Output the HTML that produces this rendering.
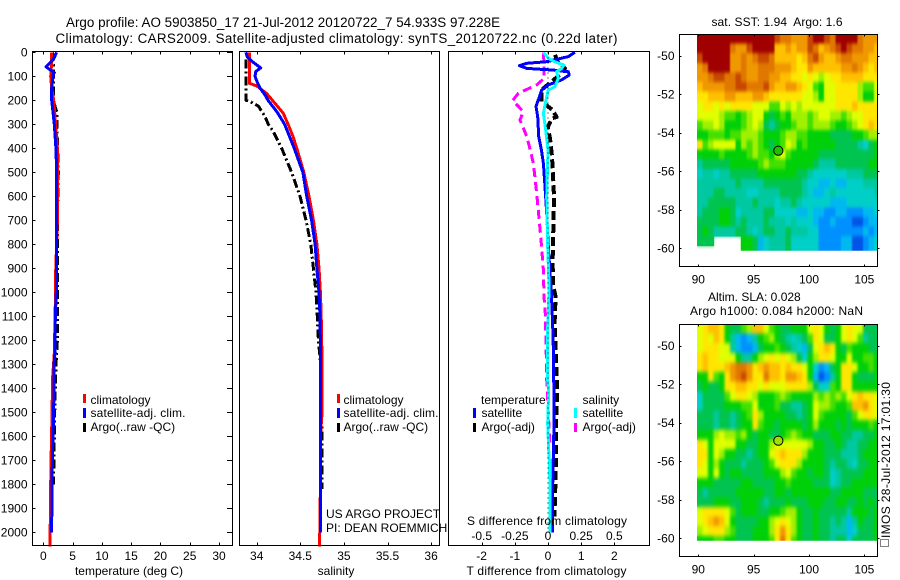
<!DOCTYPE html>
<html lang="en">
<head>
<meta charset="utf-8">
<title>Argo profile 5903850_17</title>
<style>
html,body{margin:0;padding:0;background:#fff;}
svg{display:block;}
text{font-family:"Liberation Sans",sans-serif;font-size:12px;fill:#000;}
.t{font-size:13.4px;}
</style>
</head>
<body>
<svg id="chart" xmlns="http://www.w3.org/2000/svg" width="900" height="580" viewBox="0 0 900 580">
  <defs>
    <clipPath id="clip-m1"><rect x="697" y="34" width="180.5" height="216.7"/></clipPath>
    <clipPath id="clip-m2"><rect x="697" y="324" width="180.5" height="216.7"/></clipPath>
    <filter id="soft-sst" filterUnits="userSpaceOnUse" x="680" y="20" width="215" height="245" color-interpolation-filters="sRGB">
      <feGaussianBlur in="SourceGraphic" stdDeviation="0.9 1.8" result="b"/>
      <feMerge><feMergeNode in="SourceGraphic"/><feMergeNode in="b"/></feMerge>
    </filter>
    <filter id="soft-sla" filterUnits="userSpaceOnUse" x="680" y="310" width="215" height="245" color-interpolation-filters="sRGB">
      <feGaussianBlur in="SourceGraphic" stdDeviation="1.4 2.2" result="b"/>
      <feMerge><feMergeNode in="SourceGraphic"/><feMergeNode in="b"/></feMerge>
    </filter>
  </defs>
  <rect x="0" y="0" width="900" height="580" fill="#fff"/>
  <text class="t" x="66" y="27" textLength="434">Argo profile: AO 5903850_17 21-Jul-2012 20120722_7 54.933S 97.228E</text>
  <text class="t" x="55.5" y="43" textLength="562">Climatology: CARS2009. Satellite-adjusted climatology: synTS_20120722.nc (0.22d later)</text>

  <g id="layer-p1"></g>
  <g id="layer-p2"></g>
  <g id="layer-p3"></g>
  <g>
    <g clip-path="url(#clip-m1)">
      <g id="layer-m1" filter="url(#soft-sst)"></g>
    </g>
    <g id="marker-m1"></g>
  </g>
  <g>
    <g clip-path="url(#clip-m2)">
      <g id="layer-m2" filter="url(#soft-sla)"></g>
    </g>
    <g id="marker-m2"></g>
  </g>

  <g id="layer-frames" fill="none" stroke="#000" stroke-width="1" shape-rendering="crispEdges">
    <rect x="32.5" y="51.5" width="200" height="494"/>
    <rect x="239.5" y="51.5" width="200" height="494"/>
    <rect x="448.5" y="51.5" width="201" height="494"/>
    <rect x="679.5" y="34.5" width="198" height="232"/>
    <rect x="679.5" y="324.5" width="198" height="232"/>
  </g>
  <g id="layer-ticks" stroke="#000" stroke-width="1" shape-rendering="crispEdges"></g>
  <g id="layer-labels"></g>

  <text x="129" y="575" text-anchor="middle">temperature (deg C)</text>
  <text x="336" y="575" text-anchor="middle">salinity</text>
  <text x="466.5" y="575" textLength="160">T difference from climatology</text>
  <text x="467" y="525" textLength="160">S difference from climatology</text>

  <g shape-rendering="crispEdges">
    <rect x="83" y="394" width="3" height="9" fill="#f00"/>
    <rect x="83" y="408" width="3" height="10" fill="#00f"/>
    <rect x="83" y="423" width="3" height="9" fill="#000"/>
  </g>
  <text x="90.5" y="404">climatology</text>
  <text x="90.5" y="417" textLength="95">satellite-adj. clim.</text>
  <text x="90.5" y="431">Argo(..raw -QC)</text>

  <g shape-rendering="crispEdges">
    <rect x="337" y="394" width="3" height="9" fill="#f00"/>
    <rect x="337" y="408" width="3" height="10" fill="#00f"/>
    <rect x="337" y="423" width="3" height="9" fill="#000"/>
  </g>
  <text x="343.5" y="404">climatology</text>
  <text x="343.5" y="417" textLength="95">satellite-adj. clim.</text>
  <text x="343.5" y="431">Argo(..raw -QC)</text>

  <text x="326" y="518">US ARGO PROJECT</text>
  <text x="326" y="532">PI: DEAN ROEMMICH</text>

  <g shape-rendering="crispEdges">
    <rect x="473" y="408" width="3" height="10" fill="#00f"/>
    <rect x="473" y="423" width="3" height="9" fill="#000"/>
    <rect x="574" y="408" width="3" height="10" fill="#0ff"/>
    <rect x="574" y="423" width="3" height="9" fill="#f0f"/>
  </g>
  <text x="481" y="404">temperature</text>
  <text x="481.5" y="417">satellite</text>
  <text x="481.5" y="431">Argo(-adj)</text>
  <text x="582.5" y="404">salinity</text>
  <text x="582.5" y="417">satellite</text>
  <text x="582.5" y="431">Argo(-adj)</text>

  <text x="711.5" y="26" textLength="131" xml:space="preserve">sat. SST: 1.94  Argo: 1.6</text>
  <text x="708" y="301">Altim. SLA: 0.028</text>
  <text x="690" y="315" textLength="173">Argo h1000: 0.084 h2000: NaN</text>

  <rect x="880.5" y="539.5" width="8" height="7" fill="#fff" stroke="#000" stroke-width="1" stroke-dasharray="1 1" shape-rendering="crispEdges"/>
  <text transform="translate(890,538) rotate(-90)" textLength="156">IMOS 28-Jul-2012 17:01:30</text>
</svg>

<script>
/* ---------- axis tick values ---------- */
var depthTicks = [0,100,200,300,400,500,600,700,800,900,1000,1100,1200,1300,1400,1500,1600,1700,1800,1900,2000];
var temperatureTicks = [0,5,10,15,20,25,30];
var salinityTicks = [34,34.5,35,35.5,36];
var salinityTickLabels = ['34','34.5','35','35.5','36'];
var tDiffTicks = [-2,-1,0,1,2];
var sDiffTicks = [-0.5,-0.25,0,0.25,0.5];
var sDiffTickLabels = ['-0.5','-0.25','0','0.25','0.5'];
var lonTicks = [90,95,100,105];
var latTicks = [-50,-52,-54,-56,-58,-60];

/* ---------- temperature panel series ---------- */
var climTempDepth = [0,50,100,150,200,300,400,500,700,925,1050,1250,1350,1550,1730,1950,2060];
var climTempValue = [1.43,1.4,1.26,1.43,1.77,2.1,2.4,2.45,2.4,2.1,2.05,1.9,1.6,1.45,1.3,1.2,1.14];
var satTempDepth = [0,30,50,60,70,85,90,150,200,300,400,500,1000,1100,1250,1300,1500,1600,1700,1900,2000];
var satTempValue = [2.28,1.7,0.9,0.46,1.0,1.88,1.7,1.43,1.43,1.88,2.15,2.28,2.22,2.05,2.0,1.83,1.77,1.66,1.54,1.49,1.37];
var argoTempDepth = [0,50,200,250,300,400,500,700,1000,1200,1300,1500,1700,1800];
var argoTempValue = [1.6,1.7,1.7,2.3,2.3,2.45,2.56,2.4,2.4,2.4,2.17,1.94,1.83,1.7];

/* ---------- salinity panel series ---------- */
var climSalDepth = [0,129,140,172,200,254,300,350,400,500,600,700,800,900,1000,1100,1300,1500,1600,1800,1950,2060];
var climSalValue = [33.915,33.915,34.0,34.115,34.18,34.305,34.36,34.415,34.46,34.54,34.6,34.65,34.69,34.715,34.73,34.74,34.75,34.75,34.73,34.73,34.726,34.72];
var satSalDepth = [0,20,40,65,80,100,125,150,180,200,250,300,350,400,500,600,700,800,900,1000,1100,1300,1500,1800,2000];
var satSalValue = [33.877,33.892,33.954,34.046,33.99,33.98,34.007,34.04,34.1,34.13,34.236,34.32,34.375,34.43,34.53,34.573,34.63,34.67,34.69,34.715,34.726,34.734,34.734,34.734,34.734];
var argoSalDepth = [30,60,100,130,170,200,205,224,268,300,330,400,500,600,700,800,900,1000,1100,1200,1300,1500,1820];
var argoSalValue = [33.877,33.877,33.877,33.877,33.877,33.877,33.923,34.02,34.095,34.133,34.19,34.287,34.4,34.497,34.565,34.62,34.65,34.68,34.695,34.707,34.734,34.745,34.75];

/* ---------- difference panel series ---------- */
var satTDiffDepth = [0,18,39,46,56,67,74,81,95,115,136,157,185,226,268,351,407,463,560,671,810,1000,1129,1268,1546,1684,1823,2000];
var satTDiffValue = [0.81,0.61,-0.04,-0.64,-0.86,-0.64,0.16,0.61,0.64,0.41,0.01,-0.19,-0.26,-0.36,-0.31,-0.28,-0.2,-0.14,-0.09,-0.04,0.01,0.1,0.14,0.17,0.18,0.16,0.14,0.13];
var satSDiffDepth = [0,25,39,53,67,81,108,143,157,199,254,324,407,601,810,976,1130,1157,1351,1407,1546,1657,1726,2000];
var satSDiffValue = [-0.035,0.002,0.05,0.12,0.103,0.065,0.078,0.053,0.002,-0.015,-0.035,-0.017,0,-0.01,-0.002,0.008,0,-0.005,-0.005,0.005,-0.002,0.005,0.013,0.015];
var argoSDiffDepth = [0,46,108,136,171,201,247,282,351,393,463,588,699,782,907,1018,1087,1143,1198,1365,1476,1643];
var argoSDiffValue = [-0.035,-0.03,-0.028,-0.085,-0.224,-0.266,-0.186,-0.211,-0.16,-0.14,-0.11,-0.085,-0.066,-0.053,-0.035,-0.03,-0.02,-0.02,-0.015,-0.01,0,0.015];
var argoTDiffDepth = [11,46,67,88,157,206,240,270,274,310,358,421,476,601,740,878,976,1018,1129,1268,1407,1546,1684,1865,1934];
var argoTDiffValue = [0.21,0.31,0.51,0.41,-0.2,-0.19,0.14,0.26,0.14,-0.01,0.06,0.11,0.14,0.18,0.16,0.14,0.16,0.23,0.2,0.24,0.28,0.24,0.24,0.21,0.19];

/* ---------- map grid and float position ---------- */
var floatLon = 97.228;
var floatLat = -54.933;
var mapLonStart = 89.875;
var mapLatStart = -48.87;
var mapStep = 0.5;

/* ---------- SST map levels (0 coldest .. 15 warmest, null = no data) ---------- */
var sstLevels = [
[15,15,15,15,15,15,15,15,15,15,15,15,15,15,14,13,13,12,12,12,14,15,15,14,13,15,15,15,15,13,12,12,12],
[15,15,15,15,15,15,13,12,12,14,15,15,15,15,11,11,12,11,12,12,14,13,11,12,13,14,15,14,13,13,12,12,11],
[14,15,15,15,15,15,12,12,13,12,13,14,14,13,11,11,11,11,10,11,13,14,12,11,11,12,13,13,12,12,12,11,11],
[12,13,15,15,15,15,12,12,13,12,12,13,13,13,12,12,12,11,10,10,12,11,11,11,11,11,12,12,13,12,11,10,11],
[12,12,13,14,14,13,13,14,13,12,12,13,13,12,12,11,11,10,10,9,10,9,8,9,10,10,11,11,11,11,10,10,10],
[11,12,12,12,12,13,13,14,14,13,13,13,14,12,11,11,12,12,11,10,9,7,6,9,9,10,10,10,10,8,7,7,9],
[10,10,11,11,11,12,12,11,11,11,12,12,11,10,10,10,10,10,10,9,9,8,6,9,9,10,10,10,10,8,6,6,9],
[9,10,10,9,10,9,10,10,10,10,9,9,9,7,7,9,8,9,8,9,9,9,9,9,9,10,10,10,11,10,10,10,10],
[9,9,9,9,8,7,7,6,7,8,9,9,6,5,6,7,6,8,8,8,7,8,9,9,8,8,7,8,9,9,10,10,10],
[7,8,8,9,8,6,6,6,7,8,9,8,5,4,5,6,6,7,8,8,7,8,8,8,7,6,6,7,8,9,10,11,10],
[6,6,7,7,7,6,7,7,8,8,8,7,6,6,6,7,8,8,7,7,6,6,6,6,5,5,5,5,6,6,7,8,8],
[10,7,8,9,9,9,9,6,8,7,8,7,6,5,6,7,9,8,6,7,6,6,6,6,6,5,5,5,5,4,3,5,6],
[6,6,6,6,7,6,6,6,6,7,8,7,7,6,8,9,7,6,6,6,6,6,5,5,5,5,5,5,5,5,5,5,6],
[4,5,5,5,5,5,6,6,6,6,6,7,8,7,7,7,6,6,6,6,6,5,4,4,4,5,5,5,5,5,5,6,6],
[3,4,4,3,4,4,5,5,5,5,5,6,6,6,6,6,6,6,5,5,4,3,3,3,3,3,3,4,4,4,5,5,5],
[4,4,4,4,4,4,4,5,4,4,4,4,5,5,5,5,5,5,5,4,3,3,2,2,3,2,2,3,3,3,4,4,4],
[4,4,4,5,5,4,4,4,4,3,3,4,4,4,4,5,5,5,5,4,3,2,2,3,4,3,3,3,3,3,3,3,4],
[4,4,5,5,5,5,5,4,4,4,5,4,4,4,3,4,4,5,4,3,3,3,3,3,2,2,2,3,3,3,3,3,3],
[4,5,5,5,6,6,5,3,4,4,4,4,5,5,3,3,3,3,2,2,3,2,2,1,1,2,2,1,1,1,2,2,3],
[5,5,5,5,6,6,5,4,5,4,4,4,5,4,4,4,3,4,3,3,3,2,1,1,2,1,1,1,0,0,1,2,2],
[5,6,5,4,4,4,4,5,5,4,3,4,5,5,4,4,5,4,4,4,3,3,1,1,1,1,1,1,1,1,2,1,2],
[5,5,5,null,null,null,null,null,6,6,5,2,3,4,4,4,5,3,3,3,3,3,1,1,1,1,2,2,0,0,1,2,3],
[null,null,null,null,null,null,null,null,6,6,5,2,3,4,4,4,5,3,3,3,3,3,1,1,1,1,2,2,0,0,1,2,3]
];

/* ---------- SLA map levels (0 lowest .. 15 highest) ---------- */
var slaLevels = [
[9,10,11,11,10,6,5,5,7,8,11,11,9,7,6,5,5,6,6,6,9,10,9,6,5,6,9,10,9,9,5,5,5],
[9,10,9,11,10,6,4,2,1,2,4,6,7,8,6,5,4,3,4,5,7,10,9,5,5,6,9,10,9,7,4,5,5],
[9,10,10,10,9,9,4,2,1,1,2,5,6,6,7,6,5,4,3,2,5,9,10,11,10,6,5,7,6,6,6,5,5],
[10,11,10,10,9,9,9,6,4,4,6,8,9,10,9,10,9,8,5,3,6,8,10,10,9,6,6,9,6,6,7,7,6],
[10,11,10,10,10,11,12,13,13,12,10,11,12,11,11,10,11,10,10,9,6,3,1,2,5,6,10,10,9,6,6,7,6],
[6,6,10,7,6,10,12,13,14,12,10,10,13,11,11,10,12,12,11,10,6,2,0,1,4,6,10,10,6,5,5,5,6],
[5,6,5,5,6,10,10,11,11,10,10,9,10,9,9,9,10,10,10,10,8,5,3,3,7,6,10,10,6,6,6,6,6],
[3,5,5,5,5,7,9,10,10,9,8,6,6,6,7,8,7,6,6,6,6,8,7,8,7,8,7,9,10,11,10,10,9],
[3,5,5,5,5,6,6,6,7,7,9,6,6,6,7,5,5,4,4,5,6,9,8,8,7,6,6,7,11,11,12,10,9],
[5,5,5,4,5,5,4,5,6,7,10,8,6,6,6,6,5,5,4,5,6,9,7,6,6,6,6,5,7,9,10,10,9],
[5,5,5,4,5,5,4,5,6,6,10,7,6,6,5,6,6,6,6,5,6,8,6,6,6,5,6,5,6,6,6,7,6],
[6,6,6,8,9,8,8,7,8,6,5,6,6,5,5,6,7,8,7,6,6,5,5,5,6,6,5,5,4,4,5,5,6],
[10,9,6,9,9,9,9,6,6,5,5,6,6,8,9,9,9,9,9,9,8,6,6,5,5,6,5,4,4,5,5,6,6],
[10,10,6,9,8,6,6,5,5,4,5,6,6,9,10,11,10,10,10,8,6,6,6,5,5,5,4,4,4,5,6,6,6],
[10,9,6,8,6,5,5,5,4,5,5,5,6,7,9,10,10,10,8,6,6,6,6,5,4,5,5,4,3,5,5,6,6],
[9,9,6,9,6,5,6,6,5,5,5,5,6,6,6,8,9,7,6,6,5,6,6,5,3,4,5,5,5,5,6,6,6],
[6,6,6,5,5,5,5,5,6,6,5,5,5,5,6,6,7,6,6,6,6,5,5,5,3,4,5,5,6,6,6,6,6],
[5,4,5,5,5,5,5,6,6,6,6,6,5,5,6,6,5,6,6,6,6,6,6,6,5,5,6,6,6,6,5,5,5],
[5,5,5,6,6,6,5,5,6,6,6,5,4,5,5,5,6,5,5,5,6,6,6,5,5,6,6,5,5,6,5,6,5],
[9,10,10,10,10,9,7,5,6,6,6,5,5,6,6,7,8,8,6,5,5,6,5,5,5,5,5,4,6,6,6,5,6],
[9,10,11,12,11,9,6,5,5,5,5,6,6,8,9,10,9,8,6,5,5,6,5,5,4,5,4,2,4,6,5,5,6],
[8,9,10,10,10,8,7,5,5,5,6,6,6,8,10,12,10,8,6,5,5,6,5,5,4,4,4,2,3,5,5,5,6],
[6,6,6,7,7,6,6,5,5,5,6,6,6,7,10,13,10,7,6,5,5,6,5,5,4,5,5,3,5,5,5,5,6]
];

/* ---------- colour scale ---------- */
var mapPalette = ['#0055e8','#0090ff','#00b8f0','#00cfc8','#00c8a0','#00c450','#00d008','#44e000','#a0f000','#e0ff00','#ffe600','#ffc000','#f09800','#e07800','#c84800','#a00000'];

/* ---------- axis functions ---------- */
function depthY(d){ return 52.3 + 0.24*d; }
function tempX(v){ return 43.3 + 5.857*v; }
function salX(v){ return 256.7 + 87.2*(v-34); }
function tDiffX(v){ return 548 + 33.2*v; }
function sDiffX(v){ return 548 + 132.6*v; }
function lonX(v){ return 698.3 + 11.07*(v-90); }
function latY1(v){ return 55.7 + 19.26*(-50-v); }
function latY2(v){ return 345.7 + 19.26*(-50-v); }

var SVGNS = 'http://www.w3.org/2000/svg';
function make(tag, parentId, props){
  var el = document.createElementNS(SVGNS, tag);
  for (var k in props){ el.setAttribute(k, props[k]); }
  document.getElementById(parentId).appendChild(el);
  return el;
}
function profile(parentId, depths, values, xFn, color, width, dash){
  var pts = [];
  for (var i=0;i<depths.length;i++){ pts.push(xFn(values[i]).toFixed(1)+','+depthY(depths[i]).toFixed(1)); }
  var props = {points:pts.join(' '), fill:'none', stroke:color, 'stroke-width':width, 'shape-rendering':'crispEdges', 'stroke-linejoin':'round'};
  if (dash){ props['stroke-dasharray'] = dash; }
  return make('polyline', parentId, props);
}
function label(x, y, anchor, str){
  var el = make('text', 'layer-labels', {x:x, y:y, 'text-anchor':anchor});
  el.textContent = str;
  return el;
}
function tick(x1, y1, x2, y2){
  return make('line', 'layer-ticks', {x1:x1, y1:y1, x2:x2, y2:y2});
}

/* ---------- profile lines ---------- */
var line;
line = profile('layer-p1', argoTempDepth, argoTempValue, tempX, '#000', 3, '9 3 2 3');


line = profile('layer-p1', climTempDepth, climTempValue, tempX, '#f00', 3);


line = profile('layer-p1', satTempDepth, satTempValue, tempX, '#00f', 3);



line = profile('layer-p2', argoSalDepth, argoSalValue, salX, '#000', 3, '9 3 2 3');


line = profile('layer-p2', climSalDepth, climSalValue, salX, '#f00', 3);


line = profile('layer-p2', satSalDepth, satSalValue, salX, '#00f', 3);



line = profile('layer-p3', argoTDiffDepth, argoTDiffValue, tDiffX, '#000', 4, '9 4');


line = profile('layer-p3', argoSDiffDepth, argoSDiffValue, sDiffX, '#f0f', 3, '9 5');


line = profile('layer-p3', satTDiffDepth, satTDiffValue, tDiffX, '#00f', 3);


line = profile('layer-p3', satSDiffDepth, satSDiffValue, sDiffX, '#0ff', 3);


var zeroLine = make('line', 'layer-p3', {x1:tDiffX(0), y1:depthY(0), x2:tDiffX(0), y2:depthY(2000), stroke:'#000', 'stroke-width':1, 'stroke-dasharray':'1 4', 'shape-rendering':'crispEdges'});



/* ---------- heatmaps ---------- */
function drawMap(parentId, levels, latFn, bottom, cellName){
  for (var r=0;r<levels.length;r++){
    for (var c=0;c<levels[r].length;c++){
      var v = levels[r][c];
      if (v === null){ continue; }
      var x = lonX(mapLonStart + c*mapStep);
      var y = latFn(mapLatStart - r*mapStep);
      var right = Math.min(lonX(mapLonStart + (c+1)*mapStep), 877.5);
      var low = Math.min(latFn(mapLatStart - (r+1)*mapStep), bottom);
      var cell = make('rect', parentId, {x:x.toFixed(2), y:y.toFixed(2), width:(right-x+0.4).toFixed(2), height:(low-y+0.4).toFixed(2), fill:mapPalette[v], 'shape-rendering':'crispEdges'});
      
      
    }
  }
}
drawMap('layer-m1', sstLevels, latY1, 250.7, 'sst-cell');
drawMap('layer-m2', slaLevels, latY2, 540.7, 'sla-cell');

var marker;
marker = make('circle', 'marker-m1', {cx:lonX(floatLon), cy:latY1(floatLat), r:4.6, fill:'#20c000', stroke:'#000', 'stroke-width':1});


marker = make('circle', 'marker-m2', {cx:lonX(floatLon), cy:latY2(floatLat), r:4.6, fill:'#a0e000', stroke:'#000', 'stroke-width':1});



/* ---------- ticks and tick labels ---------- */
var i, x, y, el;
for (i=0;i<depthTicks.length;i++){
  y = Math.round(depthY(depthTicks[i]))+0.5;
  el = tick(32.5, y, 35.5, y);
  
  
  el = tick(232.5, y, 227, y);
  
  
  el = label(27.5, depthY(depthTicks[i])+4.3, 'end', String(depthTicks[i]));
  
  
}
for (i=0;i<temperatureTicks.length;i++){
  x = Math.round(tempX(temperatureTicks[i]))+0.5;
  el = tick(x, 51.5, x, 54.5);
  
  
  el = tick(x, 545.5, x, 542.5);
  
  
  el = label(tempX(temperatureTicks[i]), 560, 'middle', String(temperatureTicks[i]));
  
  
}
for (i=0;i<salinityTicks.length;i++){
  x = Math.round(salX(salinityTicks[i]))+0.5;
  el = tick(x, 51.5, x, 54.5);
  
  
  el = tick(x, 545.5, x, 542.5);
  
  
  el = label(salX(salinityTicks[i]), 560, 'middle', salinityTickLabels[i]);
  
  
}
for (i=0;i<tDiffTicks.length;i++){
  x = Math.round(tDiffX(tDiffTicks[i]))+0.5;
  el = tick(x, 51.5, x, 54.5);
  
  
  el = tick(x, 545.5, x, 542.5);
  
  
  el = label(tDiffX(tDiffTicks[i]), 560, 'middle', String(tDiffTicks[i]));
  
  
}
for (i=0;i<sDiffTicks.length;i++){
  el = label(sDiffX(sDiffTicks[i]), 540, 'middle', sDiffTickLabels[i]);
  
  
}
function mapTicks(latFn, top, bottom){
  var j, px, py, t;
  for (j=0;j<lonTicks.length;j++){
    px = Math.round(lonX(lonTicks[j]))+0.5;
    t = tick(px, top+0.5, px, top+2.5);
    
    
    t = tick(px, bottom+0.5, px, bottom-1.5);
    
    
    t = label(lonX(lonTicks[j]), bottom+17.5, 'middle', String(lonTicks[j]));
    
    
  }
  for (j=0;j<latTicks.length;j++){
    py = Math.round(latFn(latTicks[j]))+0.5;
    t = tick(679.5, py, 681.5, py);
    
    
    t = tick(877.5, py, 879.5, py);
    
    
    t = label(674.5, latFn(latTicks[j])+4.3, 'end', String(latTicks[j]));
    
    
  }
}
mapTicks(latY1, 34, 266);
mapTicks(latY2, 324, 556);
</script>
</body>
</html>
